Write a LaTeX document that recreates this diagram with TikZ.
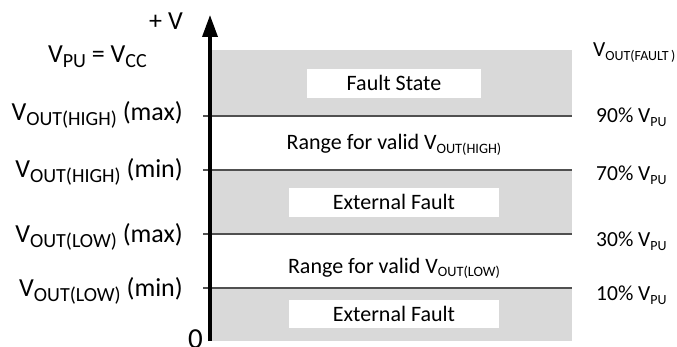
\documentclass[tikz,border=0pt]{standalone}
\usepackage{fontspec}
\setmainfont{Carlito}
\usetikzlibrary{arrows.meta}
\definecolor{bandgray}{RGB}{217,217,217}
\definecolor{linegray}{RGB}{80,80,80}
\newcommand\sbs[2][0.65]{\raisebox{-0.35ex}{\scalebox{#1}{#2}}}
\begin{document}
\begin{tikzpicture}[x=1pt,y=-1pt,
  band/.style={fill=bandgray,draw=none},
  whitebox/.style={fill=white,draw=none},
  level/.style={draw=linegray,line width=1.5pt},
  leftlbl/.style={anchor=base east,inner sep=0pt,font=\fontsize{26}{30}\selectfont},
  rightlbl/.style={anchor=base west,inner sep=0pt,font=\fontsize{21.5}{25}\selectfont},
  midlbl/.style={anchor=base,inner sep=0pt,font=\fontsize{22}{26}\selectfont}]
\useasboundingbox (0,0) rectangle (677,347);
% bands
\fill[band] (212,50) rectangle (572,116);
\fill[band] (212,170) rectangle (572,234);
\fill[band] (212,288) rectangle (572,341);
% white boxes
\fill[whitebox] (307,69) rectangle (481,98);
\fill[whitebox] (289,188) rectangle (499,217);
\fill[whitebox] (289,300) rectangle (499,328);
% levels
\coordinate (l1a) at (203,116); \coordinate (l1b) at (572,116);
\coordinate (l2a) at (203,170); \coordinate (l2b) at (572,170);
\coordinate (l3a) at (203,234); \coordinate (l3b) at (572,234);
\coordinate (l4a) at (203,288); \coordinate (l4b) at (572,288);
\draw[level] (l1a) -- (l1b);
\draw[level] (l2a) -- (l2b);
\draw[level] (l3a) -- (l3b);
\draw[level] (l4a) -- (l4b);
% axis
\coordinate (axb) at (210,341);
\coordinate (axt) at (210,15);
\draw[line width=3.5pt,-{Triangle[length=22pt,width=15pt]}] (axb) -- (axt);
% left labels
\node[leftlbl] (plusv) at (183,30) {+ V};
\node[leftlbl] (vpu) at (147,63) {V\sbs[0.77]{PU} = V\sbs[0.77]{CC}};
\node[leftlbl] (hmax) at (183,121) {V\sbs[0.77]{OUT(HIGH)} (max)};
\node[leftlbl] (hmin) at (183,178) {V\sbs[0.77]{OUT(HIGH)} (min)};
\node[leftlbl] (lmax) at (183,243) {V\sbs[0.77]{OUT(LOW)} (max)};
\node[leftlbl] (lmin) at (183,297) {V\sbs[0.77]{OUT(LOW)} (min)};
\node[leftlbl,font=\fontsize{29}{33}\selectfont] (zero) at (203,348) {0};
% right labels
\node[rightlbl] (rfault) at (593,57) {V\sbs{OUT(FAULT\,)}};
\node[rightlbl] (r90) at (596,123) {90\% V\sbs{PU}};
\node[rightlbl] (r70) at (596,181) {70\% V\sbs{PU}};
\node[rightlbl] (r30) at (596,247) {30\% V\sbs{PU}};
\node[rightlbl] (r10) at (596,301) {10\% V\sbs{PU}};
% middle labels
\node[midlbl] (fs) at (394,91) {Fault State};
\node[midlbl] (rh) at (394,150) {Range for valid V\sbs{OUT(HIGH)}};
\node[midlbl] (ef1) at (394,210) {External Fault};
\node[midlbl] (rl) at (394,273) {Range for valid V\sbs{OUT(LOW)}};
\node[midlbl] (ef2) at (394,321) {External Fault};
\end{tikzpicture}
\end{document}
